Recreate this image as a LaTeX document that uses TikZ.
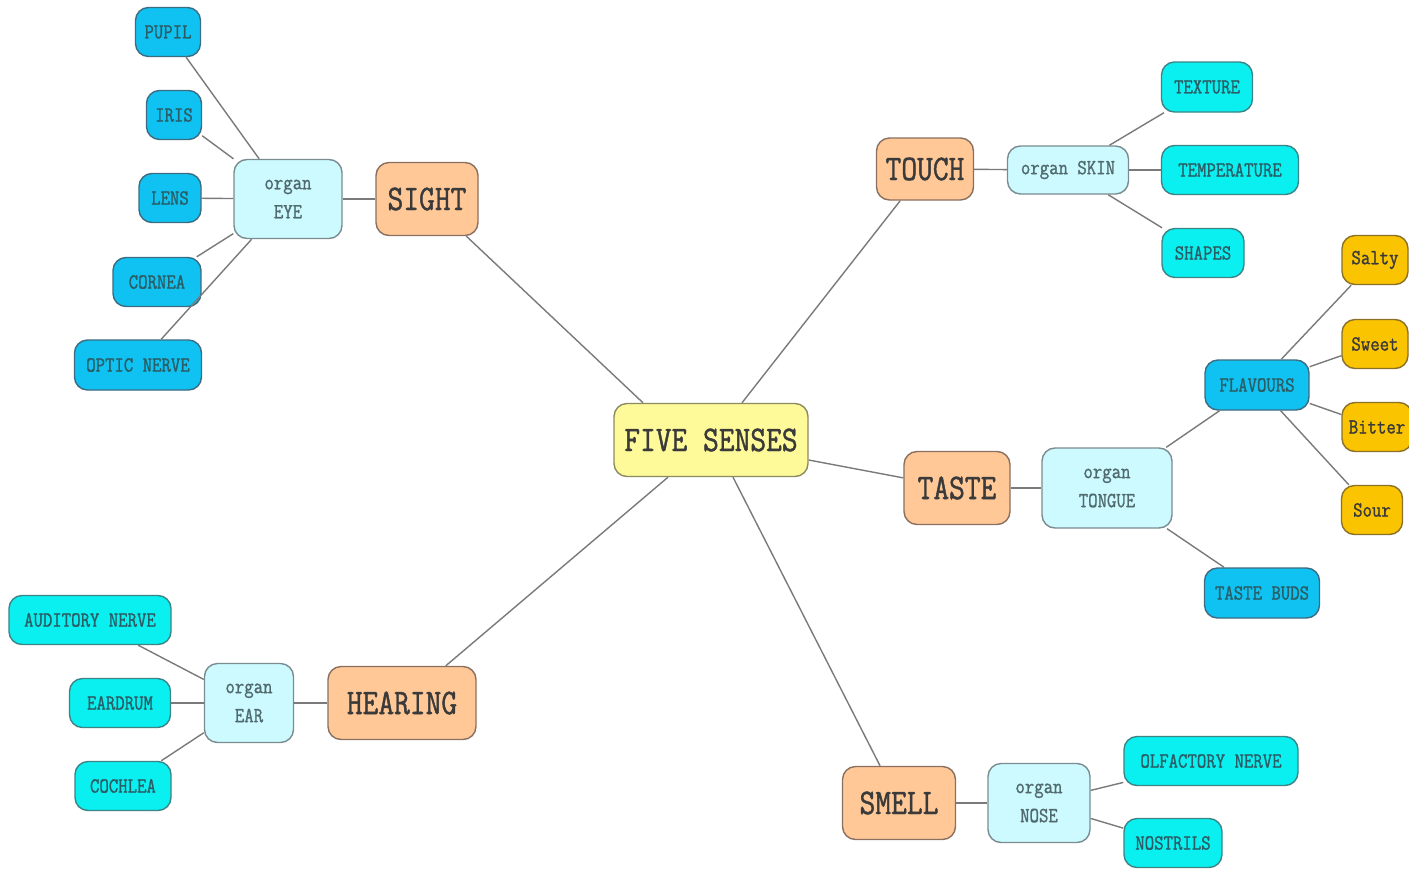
\documentclass[tikz,border=0pt]{standalone}
\usepackage{fontspec}
\newfontfamily\lab[FakeStretch=0.85,FakeBold=1.2]{Latin Modern Mono}
\definecolor{yelF}{HTML}{FFFA99}
\definecolor{yelD}{HTML}{8C8A60}
\definecolor{oraF}{HTML}{FFC896}
\definecolor{oraD}{HTML}{8A7060}
\definecolor{lcyF}{HTML}{CCFAFF}
\definecolor{lcyD}{HTML}{7A8C90}
\definecolor{bluF}{HTML}{10C2F2}
\definecolor{bluD}{HTML}{3C6C82}
\definecolor{cyaF}{HTML}{0AF0F0}
\definecolor{cyaD}{HTML}{3C8486}
\definecolor{golF}{HTML}{FAC400}
\definecolor{golD}{HTML}{8A7028}
\definecolor{txtD}{HTML}{3A3A3A}
\definecolor{txtT}{HTML}{2A5E66}
\definecolor{txtG}{HTML}{506A6E}
\definecolor{lnk}{HTML}{7A7A7A}
\tikzset{
  sz/.style 2 args={minimum width=#1pt,minimum height=#2pt},
  box/.style={draw, rounded corners=13pt, line width=1.4pt, inner sep=0pt, align=center,
    font=\lab\fontsize{21.5}{29}\selectfont},
  center/.style={box, fill=yelF, draw=yelD, text=txtD, font=\lab\fontsize{36}{40}\selectfont},
  sense/.style={box, fill=oraF, draw=oraD, text=txtD, font=\lab\fontsize{36}{40}\selectfont},
  organ/.style={box, fill=lcyF, draw=lcyD, text=txtG},
  partb/.style={box, fill=bluF, draw=bluD, text=txtT},
  partc/.style={box, fill=cyaF, draw=cyaD, text=txtT},
  flav/.style={box, fill=golF, draw=golD, text=txtD},
  link/.style={draw=lnk, line width=1.4pt}
}
\begin{document}
\begin{tikzpicture}[x=1pt,y=-1pt]
\useasboundingbox[fill=white] (0,0) rectangle (1409,868);
% centre
\node[center, sz={194}{73}] (fs) at (711,440) {FIVE SENSES};
% sight
\node[sense, sz={102}{73}] (sight) at (427,199) {SIGHT};
\node[organ, sz={108}{79}] (eye) at (288,199) {organ\\EYE};
\node[partb, sz={65}{49}] (pupil) at (168,32) {PUPIL};
\node[partb, sz={55}{49}] (iris) at (174,115) {IRIS};
\node[partb, sz={62}{49}] (lens) at (170,198) {LENS};
\node[partb, sz={88}{49}] (cornea) at (157,282) {CORNEA};
\node[partb, sz={127}{50}] (optic) at (138,365) {OPTIC NERVE};
% touch
\node[sense, sz={97}{62}] (touch) at (925,169) {TOUCH};
\node[organ, sz={121}{48}] (skin) at (1068,170) {organ SKIN};
\node[partc, sz={91}{50}] (texture) at (1207,87) {TEXTURE};
\node[partc, sz={137}{49}] (temp) at (1230,170) {TEMPERATURE};
\node[partc, sz={82}{49}] (shapes) at (1203,253) {SHAPES};
% taste
\node[sense, sz={106}{73}] (taste) at (957,488) {TASTE};
\node[organ, sz={130}{80}] (tongue) at (1107,488) {organ\\TONGUE};
\node[partb, sz={104}{50}] (flavours) at (1257,385) {FLAVOURS};
\node[partb, sz={115}{50}] (buds) at (1262,593) {TASTE BUDS};
\node[flav, sz={66}{49}] (salty) at (1375,260) {Salty};
\node[flav, sz={66}{49}] (sweet) at (1375,344) {Sweet};
\node[flav, sz={70}{49}] (bitter) at (1377,427) {Bitter};
\node[flav, sz={61}{49}] (sour) at (1372,510) {Sour};
% hearing
\node[sense, sz={148}{73}] (hearing) at (402,703) {HEARING};
\node[organ, sz={89}{79}] (ear) at (249,703) {organ\\EAR};
\node[partc, sz={162}{49}] (auditory) at (90,620) {AUDITORY NERVE};
\node[partc, sz={101}{49}] (eardrum) at (120,703) {EARDRUM};
\node[partc, sz={96}{49}] (cochlea) at (123,786) {COCHLEA};
% smell
\node[sense, sz={113}{73}] (smell) at (899,803) {SMELL};
\node[organ, sz={102}{79}] (nose) at (1039,803) {organ\\NOSE};
\node[partc, sz={174}{49}] (olf) at (1211,761) {OLFACTORY NERVE};
\node[partc, sz={98}{49}] (nostrils) at (1173,843) {NOSTRILS};
% connectors
\draw[link] ([xshift=-68pt]fs.north) -- (sight);
\draw[link] ([xshift=31pt]fs.north) -- (touch);
\draw[link] ([yshift=-20pt]fs.east) -- (taste);
\draw[link] ([xshift=-43pt]fs.south) -- (hearing);
\draw[link] ([xshift=22pt]fs.south) -- (smell);
\draw[link] (sight) -- (eye);
\draw[link] (eye) -- (pupil);
\draw[link] (eye) -- (iris);
\draw[link] (eye) -- (lens);
\draw[link] (eye) -- (cornea);
\draw[link] (eye) -- (optic);
\draw[link] (touch) -- (skin);
\draw[link] (skin) -- (texture);
\draw[link] (skin) -- (temp);
\draw[link] (skin) -- (shapes);
\draw[link] (taste) -- (tongue);
\draw[link] (tongue) -- (flavours);
\draw[link] (tongue) -- (buds);
\draw[link] (flavours) -- (salty);
\draw[link] (flavours) -- (sweet);
\draw[link] (flavours) -- (bitter);
\draw[link] (flavours) -- (sour);
\draw[link] (hearing) -- (ear);
\draw[link] (ear) -- (auditory);
\draw[link] (ear) -- (eardrum);
\draw[link] (ear) -- (cochlea);
\draw[link] (smell) -- (nose);
\draw[link] (nose) -- (olf);
\draw[link] (nose) -- (nostrils);
\end{tikzpicture}
\end{document}
